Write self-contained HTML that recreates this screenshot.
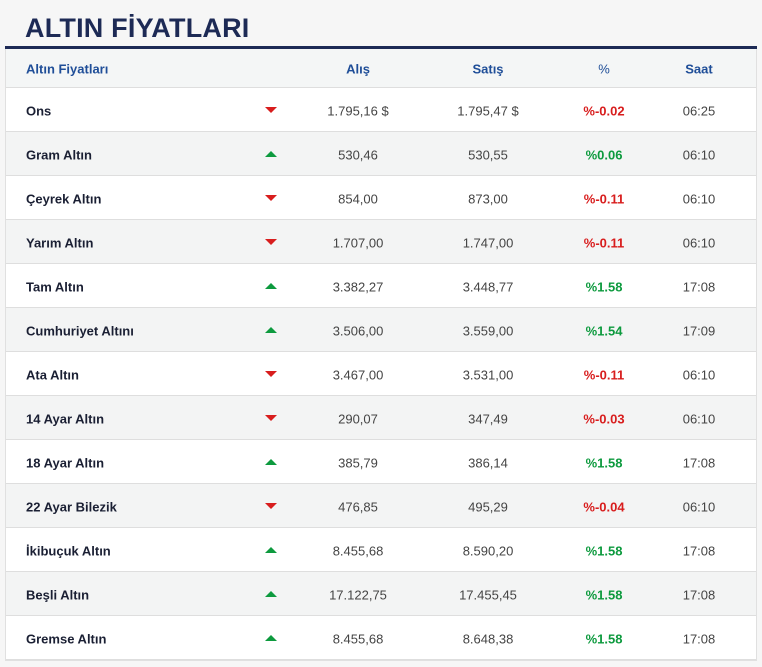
<!DOCTYPE html>
<html><head><meta charset="utf-8"><style>
body{margin:0;width:762px;height:667px;background:#f6f6f6;font-family:"Liberation Sans",sans-serif;overflow:hidden;position:relative}
h1{position:absolute;left:25px;top:13px;margin:0;font-size:27px;font-weight:bold;color:#1d2a55;letter-spacing:0.2px}
.bar{position:absolute;left:5px;top:46px;width:752px;height:3px;background:#1d2a55}
.tbl{position:absolute;left:5px;top:49px;width:750px;border:1px solid #e0e0e0;border-top:none}
.r{position:relative;height:43px;border-bottom:1px solid #dedede;background:#fff;font-size:13px;color:#444}
.r:nth-child(odd){background:#f3f4f4}
.r.h{height:38px;background:#f4f6f6;color:#1f4e98;font-weight:bold}
.r span{position:absolute;top:50%;transform:translate(-50%,-50%);white-space:nowrap;margin-top:1px}
.r span.n{left:20px;transform:translateY(-50%);font-weight:bold;color:#1a1f33}
.r.h span.n{color:#1f4e98}
.a{left:352px}.s{left:482px}.p{left:598px;font-weight:bold}.t{left:693px}
.up{color:#0d9a3e}.dn{color:#d81d1d}
.tri{position:absolute;left:259px;top:50%;width:0;height:0;border-left:6px solid transparent;border-right:6px solid transparent}
.tri.d{border-top:6px solid #d81d1d;margin-top:-3px}
.tri.u{border-bottom:6px solid #0d9a3e;margin-top:-3px}
</style></head><body>
<h1>ALTIN FİYATLARI</h1>
<div class="bar"></div>
<div class="tbl">
<div class="r h"><span class="n">Altın Fiyatları</span><span class="a">Alış</span><span class="s">Satış</span><span class="p" style="font-weight:normal">%</span><span class="t">Saat</span></div>
<div class="r"><span class="n">Ons</span><i class="tri d"></i><span class="a">1.795,16 $</span><span class="s">1.795,47 $</span><span class="p dn">%-0.02</span><span class="t">06:25</span></div>
<div class="r"><span class="n">Gram Altın</span><i class="tri u"></i><span class="a">530,46</span><span class="s">530,55</span><span class="p up">%0.06</span><span class="t">06:10</span></div>
<div class="r"><span class="n">Çeyrek Altın</span><i class="tri d"></i><span class="a">854,00</span><span class="s">873,00</span><span class="p dn">%-0.11</span><span class="t">06:10</span></div>
<div class="r"><span class="n">Yarım Altın</span><i class="tri d"></i><span class="a">1.707,00</span><span class="s">1.747,00</span><span class="p dn">%-0.11</span><span class="t">06:10</span></div>
<div class="r"><span class="n">Tam Altın</span><i class="tri u"></i><span class="a">3.382,27</span><span class="s">3.448,77</span><span class="p up">%1.58</span><span class="t">17:08</span></div>
<div class="r"><span class="n">Cumhuriyet Altını</span><i class="tri u"></i><span class="a">3.506,00</span><span class="s">3.559,00</span><span class="p up">%1.54</span><span class="t">17:09</span></div>
<div class="r"><span class="n">Ata Altın</span><i class="tri d"></i><span class="a">3.467,00</span><span class="s">3.531,00</span><span class="p dn">%-0.11</span><span class="t">06:10</span></div>
<div class="r"><span class="n">14 Ayar Altın</span><i class="tri d"></i><span class="a">290,07</span><span class="s">347,49</span><span class="p dn">%-0.03</span><span class="t">06:10</span></div>
<div class="r"><span class="n">18 Ayar Altın</span><i class="tri u"></i><span class="a">385,79</span><span class="s">386,14</span><span class="p up">%1.58</span><span class="t">17:08</span></div>
<div class="r"><span class="n">22 Ayar Bilezik</span><i class="tri d"></i><span class="a">476,85</span><span class="s">495,29</span><span class="p dn">%-0.04</span><span class="t">06:10</span></div>
<div class="r"><span class="n">İkibuçuk Altın</span><i class="tri u"></i><span class="a">8.455,68</span><span class="s">8.590,20</span><span class="p up">%1.58</span><span class="t">17:08</span></div>
<div class="r"><span class="n">Beşli Altın</span><i class="tri u"></i><span class="a">17.122,75</span><span class="s">17.455,45</span><span class="p up">%1.58</span><span class="t">17:08</span></div>
<div class="r"><span class="n">Gremse Altın</span><i class="tri u"></i><span class="a">8.455,68</span><span class="s">8.648,38</span><span class="p up">%1.58</span><span class="t">17:08</span></div>
</div>
</body></html>
